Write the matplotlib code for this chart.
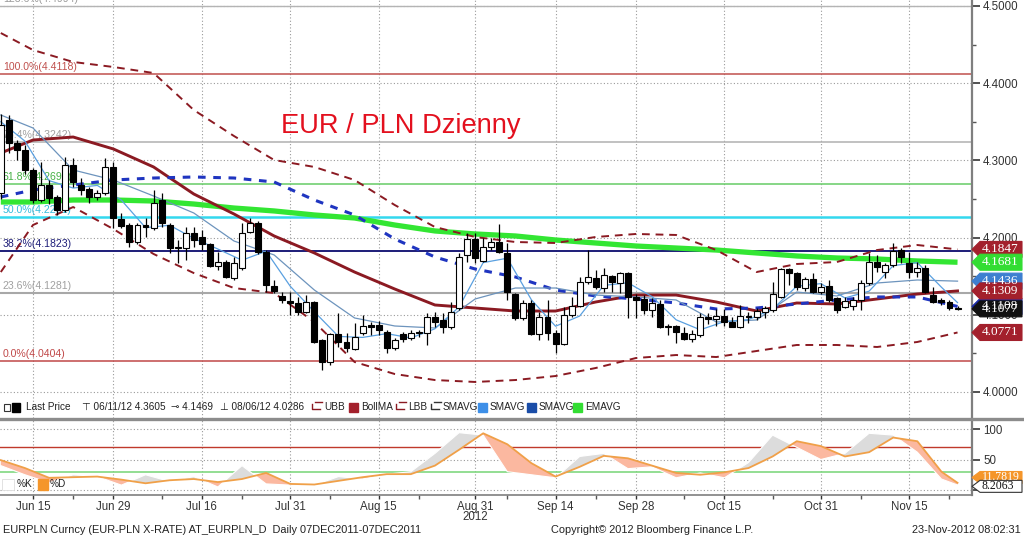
import numpy as np
import pandas as pd
import matplotlib
matplotlib.use("Agg")
import matplotlib.pyplot as plt
from matplotlib.patches import Rectangle, Polygon
from matplotlib.lines import Line2D

plt.rcParams['font.family'] = ['Liberation Sans', 'DejaVu Sans']

# ---------------- data ----------------
dates = pd.bdate_range('2012-06-11', '2012-11-23')

opens = [4.2578, 4.3523, 4.3225, 4.3135, 4.2876, 4.2487, 4.2681, 4.2526, 4.2358, 4.2940,
         4.2681, 4.2630, 4.2526, 4.2578, 4.2915, 4.2241, 4.2163, 4.1943, 4.2163, 4.2124,
         4.2487, 4.2163, 4.1878, 4.1865, 4.2060, 4.2008, 4.1917, 4.1632, 4.1684, 4.1477,
         4.1606, 4.2073, 4.2189, 4.1813, 4.1373, 4.1244, 4.1179, 4.1153, 4.1036, 4.1166,
         4.0674, 4.0389, 4.0751, 4.0648, 4.0557, 4.0764, 4.0868, 4.0868, 4.0777, 4.0570,
         4.0751, 4.0700, 4.0777, 4.0764, 4.0972, 4.0933, 4.0842, 4.1088, 4.1774, 4.1982,
         4.1697, 4.1878, 4.1943, 4.1800, 4.1269, 4.0959, 4.1153, 4.0751, 4.0972, 4.0764,
         4.0622, 4.0997, 4.1114, 4.1425, 4.1477, 4.1347, 4.1503, 4.1412, 4.1542, 4.1231,
         4.1205, 4.1062, 4.1140, 4.0855, 4.0855, 4.0764, 4.0687, 4.0738, 4.0972, 4.0946,
         4.0985, 4.0907, 4.0842, 4.0985, 4.0972, 4.1036, 4.1062, 4.1231, 4.1593, 4.1542,
         4.1347, 4.1464, 4.1295, 4.1373, 4.1218, 4.1101, 4.1114, 4.1192, 4.1412, 4.1684,
         4.1554, 4.1645, 4.1839, 4.1671, 4.1554, 4.1606, 4.1256, 4.1192, 4.1166, 4.1088]
highs = [4.3605, 4.3588, 4.3260, 4.3200, 4.2900, 4.2980, 4.2745, 4.2550, 4.3044, 4.3030,
         4.2772, 4.2655, 4.2617, 4.3031, 4.2980, 4.2319, 4.2189, 4.2189, 4.2254, 4.2617,
         4.2578, 4.2189, 4.1969, 4.2137, 4.2137, 4.2098, 4.1930, 4.1813, 4.1710, 4.1749,
         4.2189, 4.2254, 4.2215, 4.1840, 4.1451, 4.1295, 4.1295, 4.1231, 4.1256, 4.1179,
         4.0690, 4.0764, 4.1023, 4.0764, 4.0894, 4.0997, 4.0907, 4.0920, 4.0803, 4.0700,
         4.0777, 4.0803, 4.0803, 4.1023, 4.1036, 4.1023, 4.1166, 4.1801, 4.2060, 4.2060,
         4.1995, 4.1995, 4.2176, 4.1930, 4.1282, 4.1192, 4.1192, 4.1036, 4.1192, 4.0803,
         4.1101, 4.1231, 4.1490, 4.1839, 4.1580, 4.1606, 4.1516, 4.1554, 4.1554, 4.1269,
         4.1256, 4.1218, 4.1192, 4.0881, 4.0868, 4.0842, 4.0803, 4.1023, 4.1023, 4.1075,
         4.1075, 4.0972, 4.1127, 4.1036, 4.1088, 4.1114, 4.1425, 4.1606, 4.1606, 4.1554,
         4.1490, 4.1542, 4.1412, 4.1451, 4.1231, 4.1231, 4.1231, 4.1451, 4.1801, 4.1775,
         4.1671, 4.1930, 4.1865, 4.1813, 4.1684, 4.1645, 4.1360, 4.1218, 4.1192, 4.1114]
lows = [4.2500, 4.3100, 4.3005, 4.2830, 4.2450, 4.2460, 4.2435, 4.2293, 4.2330, 4.2655,
        4.2552, 4.2448, 4.2487, 4.2552, 4.2124, 4.2124, 4.1878, 4.1917, 4.2008, 4.2098,
        4.2137, 4.1800, 4.1671, 4.1710, 4.1878, 4.1839, 4.1619, 4.1580, 4.1477, 4.1451,
        4.1580, 4.2060, 4.1790, 4.1295, 4.1282, 4.1153, 4.0997, 4.0997, 4.1023, 4.0635,
        4.0286, 4.0350, 4.0583, 4.0518, 4.0544, 4.0738, 4.0738, 4.0738, 4.0505, 4.0544,
        4.0648, 4.0674, 4.0712, 4.0609, 4.0842, 4.0764, 4.0816, 4.1062, 4.1684, 4.1671,
        4.1684, 4.1839, 4.1800, 4.1192, 4.0933, 4.0933, 4.0738, 4.0674, 4.0674, 4.0505,
        4.0609, 4.0972, 4.1101, 4.1400, 4.1334, 4.1295, 4.1295, 4.1282, 4.0959, 4.0959,
        4.1010, 4.0972, 4.0829, 4.0738, 4.0635, 4.0674, 4.0648, 4.0712, 4.0881, 4.0855,
        4.0855, 4.0842, 4.0829, 4.0894, 4.0933, 4.0959, 4.1036, 4.1218, 4.1386, 4.1321,
        4.1308, 4.1282, 4.1269, 4.1166, 4.1023, 4.1088, 4.1062, 4.1062, 4.1386, 4.1554,
        4.1477, 4.1619, 4.1671, 4.1477, 4.1490, 4.1282, 4.1153, 4.1127, 4.1062, 4.1062]
closes = [4.3460, 4.3225, 4.3135, 4.2876, 4.2487, 4.2681, 4.2513, 4.2358, 4.2940, 4.2720,
          4.2617, 4.2526, 4.2578, 4.2915, 4.2254, 4.2150, 4.1943, 4.2163, 4.2137, 4.2448,
          4.2189, 4.1865, 4.1865, 4.2060, 4.1969, 4.1917, 4.1632, 4.1684, 4.1490, 4.1671,
          4.2060, 4.2189, 4.1813, 4.1386, 4.1308, 4.1192, 4.1153, 4.1036, 4.1166, 4.0648,
          4.0389, 4.0751, 4.0648, 4.0570, 4.0712, 4.0855, 4.0842, 4.0803, 4.0570, 4.0674,
          4.0687, 4.0764, 4.0764, 4.0972, 4.0907, 4.0842, 4.1036, 4.1749, 4.1982, 4.1736,
          4.1878, 4.1943, 4.1813, 4.1295, 4.0959, 4.1153, 4.0751, 4.0972, 4.0764, 4.0622,
          4.0997, 4.1114, 4.1425, 4.1490, 4.1360, 4.1516, 4.1425, 4.1542, 4.1231, 4.1192,
          4.1062, 4.1153, 4.0842, 4.0842, 4.0777, 4.0687, 4.0751, 4.0972, 4.0946, 4.0985,
          4.0907, 4.0842, 4.0985, 4.0972, 4.1049, 4.1088, 4.1269, 4.1593, 4.1542, 4.1360,
          4.1464, 4.1295, 4.1360, 4.1192, 4.1062, 4.1179, 4.1192, 4.1412, 4.1684, 4.1619,
          4.1645, 4.1826, 4.1749, 4.1554, 4.1606, 4.1295, 4.1166, 4.1166, 4.1088, 4.1077]

# weekly samples of the slower overlays
week_dates = ['2012-06-11', '2012-06-15', '2012-06-22', '2012-06-29', '2012-07-06', '2012-07-13',
              '2012-07-20', '2012-07-27', '2012-08-03', '2012-08-10', '2012-08-17', '2012-08-24',
              '2012-08-31', '2012-09-07', '2012-09-14', '2012-09-21', '2012-09-28', '2012-10-05',
              '2012-10-12', '2012-10-19', '2012-10-26', '2012-11-02', '2012-11-09', '2012-11-16',
              '2012-11-23']
upper_bb = [4.4650, 4.4430, 4.4275, 4.4210, 4.4132, 4.3653, 4.3316, 4.3005, 4.2915, 4.2746,
            4.2422, 4.2137, 4.2008, 4.1943, 4.1930, 4.2008, 4.2047, 4.2034, 4.1839, 4.1554,
            4.1658, 4.1684, 4.1839, 4.1904, 4.1847]
lower_bb = [4.1554, 4.2163, 4.2396, 4.2111, 4.1788, 4.1541, 4.1347, 4.1282, 4.0907, 4.0389,
            4.0233, 4.0155, 4.0130, 4.0155, 4.0207, 4.0311, 4.0440, 4.0479, 4.0453, 4.0531,
            4.0609, 4.0609, 4.0583, 4.0648, 4.0771]
boll_ma = [4.3096, 4.3264, 4.3303, 4.3148, 4.2915, 4.2565, 4.2306, 4.2021, 4.1801, 4.1554,
           4.1334, 4.1127, 4.1088, 4.1049, 4.1049, 4.1166, 4.1256, 4.1256, 4.1166, 4.1049,
           4.1153, 4.1140, 4.1205, 4.1269, 4.1309]
ema_long = [4.2461, 4.2461, 4.2487, 4.2487, 4.2474, 4.2435, 4.2383, 4.2345, 4.2293, 4.2254,
            4.2163, 4.2086, 4.2047, 4.2021, 4.1969, 4.1930, 4.1891, 4.1865, 4.1839, 4.1801,
            4.1762, 4.1736, 4.1723, 4.1697, 4.1681]
sma_dashed = [4.2526, 4.2617, 4.2681, 4.2746, 4.2772, 4.2785, 4.2772, 4.2720, 4.2487, 4.2293,
              4.1982, 4.1749, 4.1593, 4.1490, 4.1321, 4.1244, 4.1205, 4.1153, 4.1075, 4.1088,
              4.1140, 4.1192, 4.1231, 4.1231, 4.1108]
sma_mid = [4.3588, 4.3420, 4.2876, 4.2746, 4.2539, 4.2319, 4.1956, 4.1775, 4.1321, 4.0959,
           4.0855, 4.0829, 4.1205, 4.1347, 4.1347, 4.1256, 4.1231, 4.1192, 4.0907, 4.0933,
           4.1295, 4.1244, 4.1412, 4.1451, 4.1436]

# every third session: fast average and stochastics
fast_dates = ['2012-06-11', '2012-06-14', '2012-06-19', '2012-06-22', '2012-06-27', '2012-07-02',
              '2012-07-05', '2012-07-10', '2012-07-13', '2012-07-18', '2012-07-23', '2012-07-26',
              '2012-07-31', '2012-08-03', '2012-08-08', '2012-08-13', '2012-08-16', '2012-08-21',
              '2012-08-24', '2012-08-29', '2012-09-03', '2012-09-06', '2012-09-11', '2012-09-14',
              '2012-09-19', '2012-09-24', '2012-09-27', '2012-10-02', '2012-10-05', '2012-10-10',
              '2012-10-15', '2012-10-18', '2012-10-23', '2012-10-26', '2012-10-31', '2012-11-05',
              '2012-11-08', '2012-11-13', '2012-11-16', '2012-11-21', '2012-11-23']
sma_fast = [4.3500, 4.3250, 4.2738, 4.2642, 4.2676, 4.2485, 4.2129, 4.2160, 4.1990, 4.1852,
            4.1707, 4.1824, 4.1370, 4.1039, 4.0720, 4.0707, 4.0756, 4.0700, 4.0819, 4.1101,
            4.1676, 4.1733, 4.1194, 4.0852, 4.0984, 4.1381, 4.1415, 4.1236, 4.0935, 4.0806,
            4.0912, 4.0938, 4.1073, 4.1370, 4.1404, 4.1218, 4.1306, 4.1637, 4.1676, 4.1357,
            4.1158]
stoch_d = [49, 36, 20, 21, 22, 17, 11, 16, 18, 13, 18, 28, 10, 9, 15, 21, 26, 26, 40, 66,
           93, 75, 44, 22, 38, 56, 52, 40, 28, 25, 29, 36, 55, 80, 72, 55, 62, 86, 80, 30,
           11.78]
stoch_k = [40, 25, 12, 25, 22, 8, 25, 14, 22, 5, 40, 10, 8, 8, 22, 18, 26, 30, 60, 94,
           90, 30, 25, 20, 55, 60, 35, 38, 20, 28, 20, 45, 90, 70, 50, 60, 93, 90, 62, 18,
           8.21]

fib_levels = [4.4994, 4.4118, 4.3242, 4.2699, 4.2261, 4.1823, 4.1281, 4.0404]
fib_names = ['123.6%', '100.0%', '76.4%', '61.8%', '50.0%', '38.2%', '23.6%', '0.0%']

tick_dates = ['2012-06-15', '2012-06-29', '2012-07-16', '2012-07-31', '2012-08-15', '2012-08-31',
              '2012-09-14', '2012-09-28', '2012-10-15', '2012-10-31', '2012-11-15']
tick_labels = ['Jun 15', 'Jun 29', 'Jul 16', 'Jul 31', 'Aug 15', 'Aug 31',
               'Sep 14', 'Sep 28', 'Oct 15', 'Oct 31', 'Nov 15']
minor_dates = ['2012-06-22', '2012-07-09', '2012-07-23', '2012-08-07', '2012-08-22', '2012-09-06',
               '2012-09-21', '2012-10-08', '2012-10-23', '2012-11-07', '2012-11-22']

# ---------------- layout ----------------
W, H = 1024, 539
def rect(l, t, r, b):
    return [l / W, 1 - b / H, (r - l) / W, (b - t) / H]
def fx(px):
    return px / W
def fy(py):
    return 1 - py / H

fig = plt.figure(figsize=(W / 100, H / 100), dpi=100)
fig.patch.set_facecolor('white')
ax = fig.add_axes(rect(0, 0, 972, 418))
ax2 = fig.add_axes(rect(0, 420, 972, 495))

pos = np.arange(len(dates))
def loc(ds):
    return dates.get_indexer(pd.to_datetime(ds))
wk = loc(week_dates)
fk = loc(fast_dates)

xlim = (-0.1, 120.8)
ax.set_xlim(*xlim)
ax2.set_xlim(*xlim)
ax.set_ylim(4.5 - 412 / 772, 4.5 + 6 / 772)
ax2.set_ylim(-8.2, 114.8)

grid_c = '#9a9a9a'
for a in (ax, ax2):
    a.set_facecolor('white')
    for s in ('left', 'top'):
        a.spines[s].set_visible(False)
    a.spines['right'].set_color('#7f7f7f')
    a.spines['right'].set_linewidth(1.6)
    a.yaxis.tick_right()
    a.set_xticks(loc(tick_dates))
    a.set_xticks(loc(minor_dates), minor=True)
    a.xaxis.grid(True, which='major', color=grid_c, linestyle=(0, (1, 2)), linewidth=0.8)
    a.yaxis.grid(True, which='major', color=grid_c, linestyle=(0, (1, 2)), linewidth=0.8)
    a.set_axisbelow(True)

ax.spines['bottom'].set_visible(False)
ax.tick_params(axis='x', which='both', bottom=False, labelbottom=False)
ax2.spines['bottom'].set_color('#7f7f7f')
ax2.spines['bottom'].set_linewidth(1.2)

ax.set_yticks([4.0, 4.1, 4.2, 4.3, 4.4, 4.5])
ax.set_yticklabels(['4.0000', '4.1000', '4.2000', '4.3000', '4.4000', '4.5000'])
ax.set_yticks([4.05, 4.15, 4.25, 4.35, 4.45], minor=True)
ax.tick_params(axis='y', which='major', direction='out', length=6, width=1.2, colors='#333333',
               labelsize=8.3, pad=2)
ax.tick_params(axis='y', which='minor', direction='out', length=3, width=1, colors='#555555')

ax2.set_yticks([0, 50, 100])
ax2.set_yticklabels(['', '50', '100'])
ax2.tick_params(axis='y', which='major', direction='out', length=6, width=1.2, colors='#333333',
                labelsize=8.3, pad=2)
ax2.set_xticklabels(tick_labels)
ax2.tick_params(axis='x', which='major', direction='out', length=3, width=1, colors='#333333',
                labelsize=8.3, pad=1.5)
ax2.tick_params(axis='x', which='minor', direction='out', length=3, width=1, colors='#555555')

# ---------------- Fibonacci levels ----------------
fib_colors = ['#b4b4b4', '#c0504d', '#b0b0b0', '#66cc66', '#33d8ee', '#1c1c78', '#a8a8a8', '#c04848']
fib_text = ['#9a9a9a', '#c0504d', '#a0a0a0', '#44b044', '#33bbdd', '#1c1c78', '#a0a0a0', '#c04848']
fib_lw = [1.0, 1.1, 1.1, 1.1, 1.8, 1.4, 1.5, 1.1]
for lvl, nm, c, tc, lw in zip(fib_levels, fib_names, fib_colors, fib_text, fib_lw):
    ax.axhline(lvl, color=c, lw=lw, zorder=1)
    ax.text(0.003, lvl + 2 / 772, f'{nm}({lvl:.4f})', transform=ax.get_yaxis_transform(),
            color=tc, fontsize=7.6, va='bottom', ha='left', zorder=2)

# ---------------- overlays ----------------
ax.plot(wk, ema_long, color='#33e633', lw=3.8, solid_capstyle='butt', zorder=3)
ax.plot(wk, upper_bb, color='#8b1a22', lw=1.4, linestyle=(0, (4, 3)), zorder=3)
ax.plot(wk, lower_bb, color='#8b1a22', lw=1.4, linestyle=(0, (4, 3)), zorder=3)
ax.plot(wk, boll_ma, color='#8b1a22', lw=2.1, zorder=3)
ax.plot(wk, sma_dashed, color='#1f35c0', lw=2.2, linestyle=(0, (2.5, 2.5)), zorder=3)
ax.plot(wk, sma_mid, color='#6d94bd', lw=0.9, zorder=3)
ax.plot(fk, sma_fast, color='#5aa0e0', lw=0.9, zorder=3)

# ---------------- candles ----------------
o = np.array(opens); h = np.array(highs); l = np.array(lows); c = np.array(closes)
ax.vlines(pos, l, h, color='black', lw=0.9, zorder=4)
body_lo = np.minimum(o, c)
body_h = np.maximum(np.abs(c - o), 0.0008)
face = np.where(c < o, 'black', 'white')
ax.bar(pos, body_h, bottom=body_lo, width=0.74, color=face, edgecolor='black', linewidth=0.8, zorder=5)

# ---------------- title ----------------
ax.text(281 / 972, 1 - 126 / 418, 'EUR / PLN Dzienny', transform=ax.transAxes,
        fontsize=19.6, color='#e3101e', va='center', ha='left',
        family=['Liberation Sans Narrow', 'Liberation Sans', 'DejaVu Sans'])

# ---------------- value tags ----------------
def tag(a, yval, txt, fc, tc, half, ec=None, fs=9.5):
    tr = a.get_yaxis_transform()
    x0, x1, x2 = 1.0, 1 + 8 / 972, 1 + 50 / 972
    poly = Polygon([[x0, yval], [x1, yval + half], [x2, yval + half], [x2, yval - half],
                    [x1, yval - half]], closed=True, transform=tr, facecolor=fc,
                   edgecolor=ec if ec else fc, lw=0.8, clip_on=False, zorder=10)
    a.add_patch(poly)
    a.text(1 + 10 / 972, yval, txt, transform=tr, color=tc, fontsize=fs, va='center', ha='left',
           clip_on=False, zorder=11, family=['Liberation Serif', 'DejaVu Serif'])

hp = 8 / 772
tag(ax, 4.1847, '4.1847', '#a3202c', 'white', hp)
tag(ax, 4.1681, '4.1681', '#33dd33', 'white', hp)
tag(ax, 4.1436, '4.1436', '#3d7fd0', 'white', hp)
tag(ax, 4.1108, '4.1108', '#1a2aa8', 'white', hp)
tag(ax, 4.1309, '4.1309', '#a3202c', 'white', hp)
tag(ax, 4.1077, '4.1077', '#111111', 'white', hp)
tag(ax, 4.0771, '4.0771', '#a3202c', 'white', hp)

hs = 6 / 0.61
tag(ax2, 20.5, '11.7819', '#f5962a', 'white', hs, fs=8.5)
tag(ax2, 6.0, '8.2063', 'white', '#111111', hs, ec='#333333', fs=8.5)

# ---------------- stochastic panel ----------------
ax2.axhline(70, color='#c0392b', lw=1.0, zorder=2)
ax2.axhline(30, color='#80d880', lw=1.2, zorder=2)
kk = np.array(stoch_k, dtype=float); dd = np.array(stoch_d, dtype=float)
ax2.fill_between(fk, kk, dd, where=kk >= dd, interpolate=True, color='#dcdcdc', lw=0, zorder=3)
ax2.fill_between(fk, kk, dd, where=kk < dd, interpolate=True, color='#fbb8a0', lw=0, zorder=3)
ax2.plot(fk, kk, color='white', lw=0.8, zorder=4)
ax2.plot(fk, dd, color='#f0a048', lw=1.3, zorder=5)

# ---------------- legends ----------------
ly = fy(407)
small = ['Liberation Sans Narrow', 'Liberation Sans', 'DejaVu Sans']
fig.add_artist(Rectangle((fx(12), fy(412)), 8 / W, 9 / H, facecolor='black', edgecolor='black',
                         transform=fig.transFigure))
fig.add_artist(Rectangle((fx(4), fy(411)), 6 / W, 7 / H, facecolor='white', edgecolor='#333333',
                         lw=0.8, transform=fig.transFigure))
items = [(26, 'Last Price'), (82, '⊤ 06/11/12 4.3605'), (171, '⊸ 4.1469'),
         (220, '⊥ 08/06/12 4.0286')]
for xp, t in items:
    fig.text(fx(xp), ly, t, fontsize=7.2, color='#222222', va='center', ha='left', family=small)
legend_items = [(312, 'UBB', None), (349, 'BollMA', '#a3202c'), (396, 'LBB', None),
                (431, 'SMAVG', None), (478, 'SMAVG', '#3d8fe8'), (527, 'SMAVG', '#1a4da8'),
                (573, 'EMAVG', '#33dd33')]
for xp, t, col in legend_items:
    if col is None:
        lc = '#8b1a22' if t != 'SMAVG' else '#333333'
        fig.add_artist(Line2D([fx(xp), fx(xp), fx(xp + 8)], [fy(404), fy(409), fy(409)],
                              color=lc, lw=1.0, transform=fig.transFigure))
        fig.add_artist(Line2D([fx(xp + 3), fx(xp + 10)], [fy(401.5), fy(401.5)],
                              color=lc, lw=1.0, transform=fig.transFigure))
    else:
        fig.add_artist(Rectangle((fx(xp), fy(412)), 9 / W, 9 / H, facecolor=col, edgecolor=col,
                                 transform=fig.transFigure))
    fig.text(fx(xp + 12), ly, t, fontsize=7.2, color='#222222', va='center', ha='left', family=small)

# stoch legend
fig.add_artist(Rectangle((fx(2), fy(490)), 12 / W, 11 / H, facecolor='white', edgecolor='#dddddd',
                         lw=0.6, transform=fig.transFigure))
fig.text(fx(17), fy(484), '%K', fontsize=7.2, color='#222222', va='center', ha='left', family=small)
fig.add_artist(Rectangle((fx(38), fy(490)), 10 / W, 11 / H, facecolor='#f5962a', edgecolor='#f5962a',
                         transform=fig.transFigure))
fig.text(fx(50), fy(484), '%D', fontsize=7.2, color='#222222', va='center', ha='left', family=small)

# separator between panels
fig.add_artist(Line2D([0, 1], [fy(418.5), fy(418.5)], color='#8c8c8c', lw=2.4,
                      transform=fig.transFigure))

# year label and footer
aug31 = loc(['2012-08-31'])[0]
ax2.text(aug31, -0.29, '2012', transform=ax2.get_xaxis_transform(), fontsize=8.3,
         color='#333333', ha='center', va='center')
fig.text(fx(3), fy(530), 'EURPLN Curncy (EUR-PLN X-RATE) AT_EURPLN_D  Daily 07DEC2011-07DEC2011',
         fontsize=7.9, color='#222222', va='center', ha='left')
fig.text(fx(551), fy(530), 'Copyright\u00a9 2012 Bloomberg Finance L.P.', fontsize=7.9,
         color='#222222', va='center', ha='left')
fig.text(fx(1021), fy(530), '23-Nov-2012 08:02:31', fontsize=7.9, color='#222222',
         va='center', ha='right')

fig.savefig('out.png', dpi=100, facecolor='white')
